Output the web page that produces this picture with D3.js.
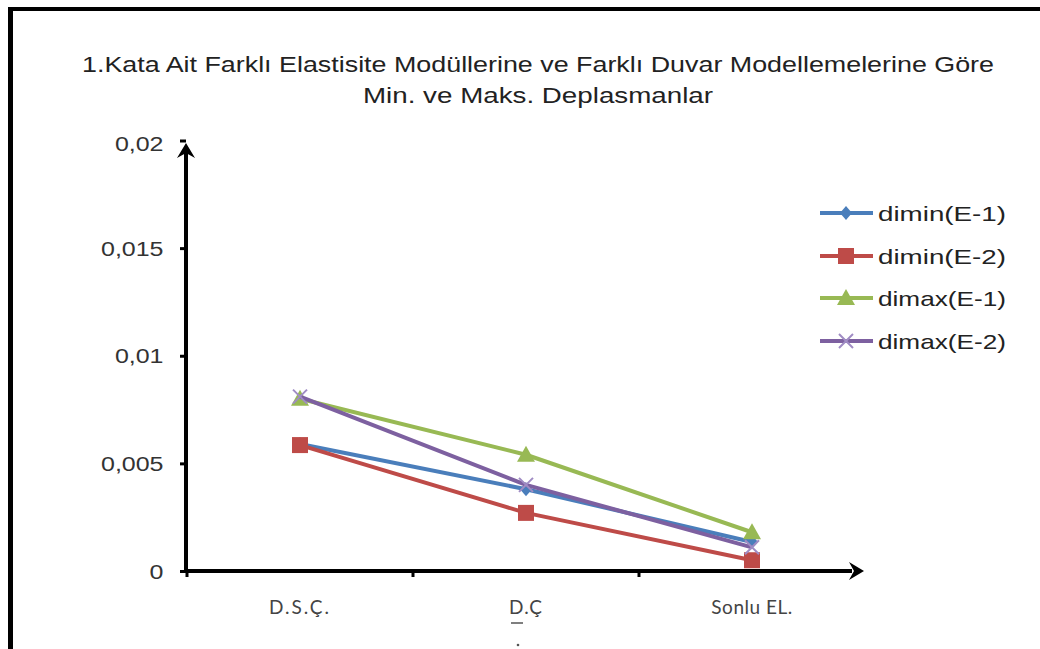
<!DOCTYPE html>
<html lang="tr">
  <head>
    <meta charset="utf-8" />
    <script src="https://cdn.jsdelivr.net/npm/d3@7/dist/d3.min.js"></script>
    <style>
      body { margin: 0; background: #fff; }
      svg { font-family: "Liberation Sans", Arial, sans-serif; }
    </style>
  </head>
  <body>
    <div id="container"></div>
    <script>
      const categories = ["D.S.Ç.", "D.Ç", "Sonlu EL."];
      const seriesNames = ["dimin(E-1)", "dimin(E-2)", "dimax(E-1)", "dimax(E-2)"];
      const diminE1 = [0.0059, 0.0038, 0.00135];
      const diminE2 = [0.00585, 0.0027, 0.0005];
      const dimaxE1 = [0.008, 0.0054, 0.0018];
      const dimaxE2 = [0.0081, 0.004, 0.0011];
      const yTicks = [0, 0.005, 0.01, 0.015, 0.02];
      const yTickLabels = ["0", "0,005", "0,01", "0,015", "0,02"];

      const width = 1040, height = 649;
      const colors = ["#4a7ebb", "#be4b48", "#98b954", "#7d60a0"];
      const symbols = ["diamond", "square", "triangle", "x"];
      const series = [diminE1, diminE2, dimaxE1, dimaxE2];

      const svg = d3.select("#container").append("svg")
        .attr("width", width).attr("height", height);

      // frame (only left and top edges visible)
      svg.append("line").attr("x1", 10.5).attr("x2", 10.5).attr("y1", 7).attr("y2", height)
        .attr("stroke", "#000").attr("stroke-width", 5);
      svg.append("line").attr("x1", 8).attr("x2", width).attr("y1", 9).attr("y2", 9)
        .attr("stroke", "#000").attr("stroke-width", 4);

      // title
      svg.append("text").attr("x", 538).attr("y", 72).attr("text-anchor", "middle")
        .attr("font-size", 22).attr("fill", "#222")
        .attr("textLength", 912).attr("lengthAdjust", "spacingAndGlyphs")
        .text("1.Kata Ait Farklı Elastisite Modüllerine ve Farklı Duvar Modellemelerine Göre");
      svg.append("text").attr("x", 538).attr("y", 103).attr("text-anchor", "middle")
        .attr("font-size", 22).attr("fill", "#222")
        .attr("textLength", 350).attr("lengthAdjust", "spacingAndGlyphs")
        .text("Min. ve Maks. Deplasmanlar");

      const x = d3.scalePoint().domain(categories).range([187, 865]).padding(0.5);
      const y = d3.scaleLinear().domain([0, 0.02]).range([571, 140.5]);
      const step = x.step();

      // y axis
      const yAxis = svg.append("g").attr("transform", "translate(186,0)")
        .call(d3.axisLeft(y).tickValues(yTicks).tickSize(6)
          .tickFormat((d, i) => yTickLabels[i]));
      yAxis.select(".domain").remove();
      yAxis.attr("font-family", null);
      yAxis.selectAll(".tick line").attr("stroke", "#000").attr("stroke-width", 3);
      yAxis.selectAll(".tick text").attr("font-size", 20).attr("fill", "#333")
        .attr("dy", "0.35em")
        .attr("transform", "scale(1.25,1)").attr("x", -18);
      yAxis.select(".tick:last-of-type text").attr("dy", "0.5em");

      // x axis
      const bounds = [0, 1, 2, 3].map(i => 187 + i * step);
      const xAxis = svg.append("g").attr("transform", "translate(0,571)");
      xAxis.selectAll("line.tk").data(bounds.slice(0, 3)).join("line")
        .attr("x1", d => d).attr("x2", d => d).attr("y1", 0).attr("y2", 6)
        .attr("stroke", "#000").attr("stroke-width", 3);
      xAxis.selectAll("text").data(categories).join("text")
        .attr("x", d => x(d)).attr("y", 43).attr("text-anchor", "middle")
        .style("font-family", "Lato, 'Open Sans', sans-serif")
        .attr("font-size", 19).attr("fill", "#444")
        .attr("letter-spacing", (d, i) => [2, 1, 0.5][i])
        .text(d => d);
      // small stray marks under "D.Ç" seen in the source image
      xAxis.append("line").attr("x1", x("D.Ç") - 15).attr("x2", x("D.Ç") - 3).attr("y1", 52).attr("y2", 52)
        .attr("stroke", "#555").attr("stroke-width", 1.5);
      xAxis.append("circle").attr("cx", x("D.Ç") - 8).attr("cy", 74).attr("r", 1.3).attr("fill", "#555");

      // axis lines with arrowheads
      svg.append("line").attr("x1", 186).attr("x2", 186).attr("y1", 573).attr("y2", 152)
        .attr("stroke", "#000").attr("stroke-width", 4);
      svg.append("path").attr("d", "M186,143 L177,158 L186,153 L195,158 Z").attr("fill", "#000");
      svg.append("line").attr("x1", 184).attr("x2", 852).attr("y1", 571).attr("y2", 571)
        .attr("stroke", "#000").attr("stroke-width", 4);
      svg.append("path").attr("d", "M864,571 L849,562 L854,571 L849,580 Z").attr("fill", "#000");

      const line = d3.line().x((d, i) => x(categories[i])).y(d => y(d));

      function marker(g, k, cx, cy) {
        const c = colors[k];
        if (symbols[k] === "diamond") {
          g.append("path").attr("d", `M${cx},${cy - 7} L${cx + 6},${cy} L${cx},${cy + 7} L${cx - 6},${cy} Z`).attr("fill", c);
        } else if (symbols[k] === "square") {
          g.append("rect").attr("x", cx - 8).attr("y", cy - 8).attr("width", 16).attr("height", 16).attr("fill", c);
        } else if (symbols[k] === "triangle") {
          g.append("path").attr("d", `M${cx},${cy - 9} L${cx + 9},${cy + 7} L${cx - 9},${cy + 7} Z`).attr("fill", c);
        } else {
          g.append("path").attr("d", `M${cx - 7},${cy - 7} L${cx + 7},${cy + 7} M${cx + 7},${cy - 7} L${cx - 7},${cy + 7}`)
            .attr("stroke", "#a08cc4").attr("stroke-width", 2);
        }
      }

      series.forEach((vals, k) => {
        const g = svg.append("g");
        g.append("path").datum(vals).attr("d", line).attr("fill", "none")
          .attr("stroke", colors[k]).attr("stroke-width", 4).attr("stroke-linejoin", "round");
        vals.forEach((v, i) => marker(g, k, x(categories[i]), y(v)));
      });

      // legend
      const legendY = [213, 256, 298, 341];
      seriesNames.forEach((name, k) => {
        const g = svg.append("g");
        g.append("line").attr("x1", 820).attr("x2", 873).attr("y1", legendY[k]).attr("y2", legendY[k])
          .attr("stroke", colors[k]).attr("stroke-width", 4);
        marker(g, k, 846, legendY[k]);
        g.append("text").attr("x", 878).attr("y", legendY[k]).attr("dy", "0.36em")
          .attr("font-size", 21).attr("fill", "#222")
          .attr("textLength", 128).attr("lengthAdjust", "spacingAndGlyphs").text(name);
      });
    </script>
  </body>
</html>
